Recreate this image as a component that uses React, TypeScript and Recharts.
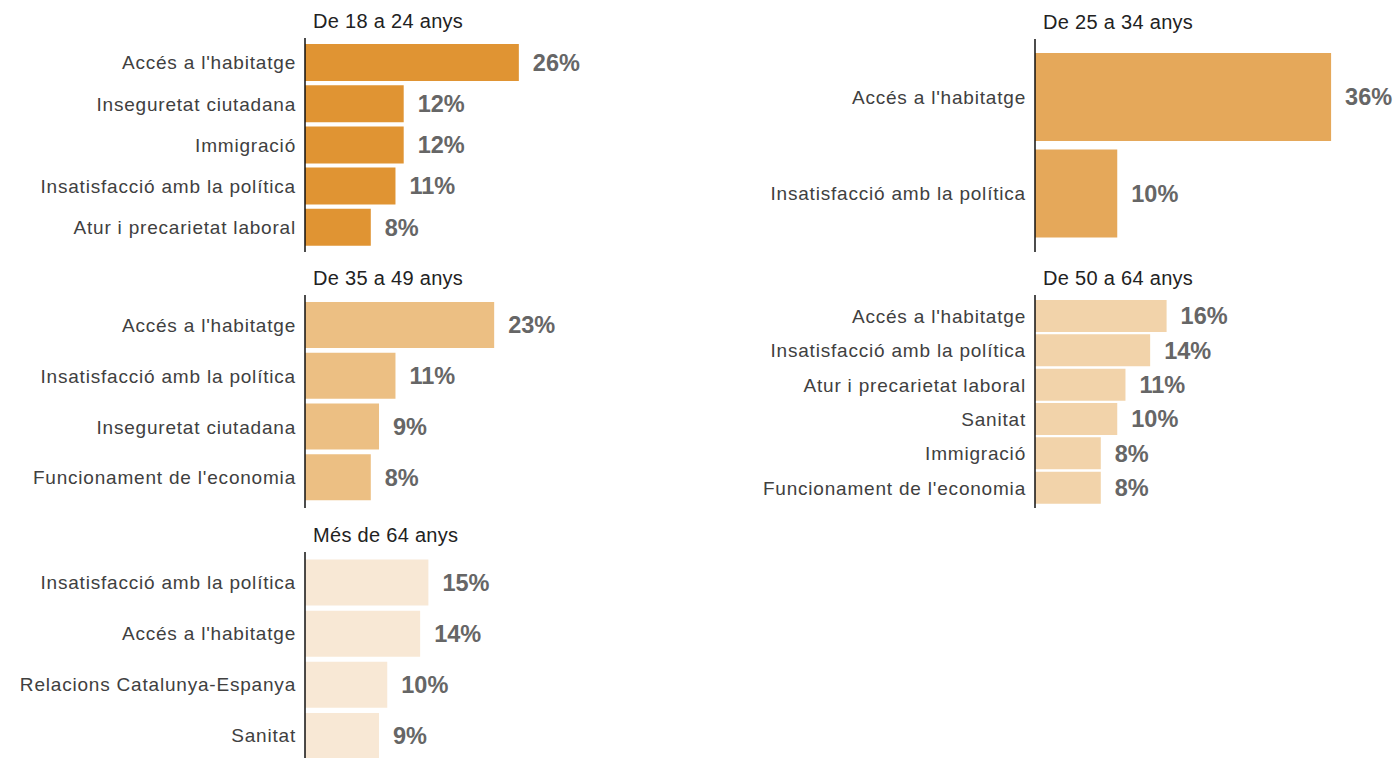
import React from 'react'
import { BarChart, Bar, XAxis, YAxis, LabelList } from 'recharts'

// Percentages per age group (top issues)
const group1Labels = ["Accés a l'habitatge", 'Inseguretat ciutadana', 'Immigració', 'Insatisfacció amb la política', 'Atur i precarietat laboral']
const group1Values = [26, 12, 12, 11, 8]

const group2Labels = ["Accés a l'habitatge", 'Insatisfacció amb la política']
const group2Values = [36, 10]

const group3Labels = ["Accés a l'habitatge", 'Insatisfacció amb la política', 'Inseguretat ciutadana', "Funcionament de l'economia"]
const group3Values = [23, 11, 9, 8]

const group4Labels = ["Accés a l'habitatge", 'Insatisfacció amb la política', 'Atur i precarietat laboral', 'Sanitat', 'Immigració', "Funcionament de l'economia"]
const group4Values = [16, 14, 11, 10, 8, 8]

const group5Labels = ['Insatisfacció amb la política', "Accés a l'habitatge", 'Relacions Catalunya-Espanya', 'Sanitat']
const group5Values = [15, 14, 10, 9]

const FONT = '"Liberation Sans", Arial, sans-serif'

interface PanelProps {
  title: string
  labels: string[]
  values: number[]
  color: string
  left: number
  top: number
  height: number
  axisWidth: number
  width: number
  barSize: number
  padTop: number
  padBottom: number
}

function Panel({ title, labels, values, color, left, top, height, axisWidth, width, barSize, padTop, padBottom }: PanelProps) {
  const data = labels.map((name, i) => ({ name, value: values[i] }))
  const plotWidth = 329
  return (
    <>
      <div style={{ position: 'absolute', left: left + axisWidth + 8, top: top - 28, fontSize: 20, letterSpacing: 0.3, color: '#222', whiteSpace: 'nowrap' }}>
        {title}
      </div>
      <div style={{ position: 'absolute', left, top }}>
        <BarChart
          layout="vertical"
          width={width}
          height={height}
          data={data}
          margin={{ top: 0, bottom: 0, left: 0, right: width - axisWidth - plotWidth }}
        >
          <XAxis type="number" hide domain={[0, 40]} />
          <YAxis
            type="category"
            dataKey="name"
            width={axisWidth}
            interval={0}
            tickLine={false}
            tickSize={0}
            tickMargin={9}
            padding={{ top: padTop, bottom: padBottom }}
            axisLine={{ stroke: '#111', strokeWidth: 1.5 }}
            tick={{ fill: '#404040', fontSize: 19, letterSpacing: 0.8 }}
          />
          <Bar dataKey="value" fill={color} barSize={barSize} isAnimationActive={false}>
            <LabelList
              dataKey="value"
              position="right"
              offset={14}
              formatter={(v: any) => `${v}%`}
              fill="#666"
              fontSize={23.5}
              fontWeight="bold"
            />
          </Bar>
        </BarChart>
      </div>
    </>
  )
}

export default function App() {
  return (
    <div style={{ position: 'absolute', left: 0, top: 0, width: 1400, height: 758, overflow: 'hidden', background: '#fff', fontFamily: FONT }}>
      <Panel title="De 18 a 24 anys" labels={group1Labels} values={group1Values} color="#E09433"
        left={0} top={38} height={214} axisWidth={305} width={660} barSize={37} padTop={4} padBottom={4} />
      <Panel title="De 25 a 34 anys" labels={group2Labels} values={group2Values} color="#E5A85A"
        left={700} top={39} height={213} axisWidth={335} width={700} barSize={88} padTop={10} padBottom={10} />
      <Panel title="De 35 a 49 anys" labels={group3Labels} values={group3Values} color="#ECBF83"
        left={0} top={295} height={213} axisWidth={305} width={660} barSize={46} padTop={5} padBottom={5} />
      <Panel title="De 50 a 64 anys" labels={group4Labels} values={group4Values} color="#F2D3AA"
        left={700} top={295} height={213} axisWidth={335} width={700} barSize={32} padTop={4} padBottom={3} />
      <Panel title="Més de 64 anys" labels={group5Labels} values={group5Values} color="#F8E8D5"
        left={0} top={552} height={213} axisWidth={305} width={660} barSize={46} padTop={4.5} padBottom={4} />
    </div>
  )
}
